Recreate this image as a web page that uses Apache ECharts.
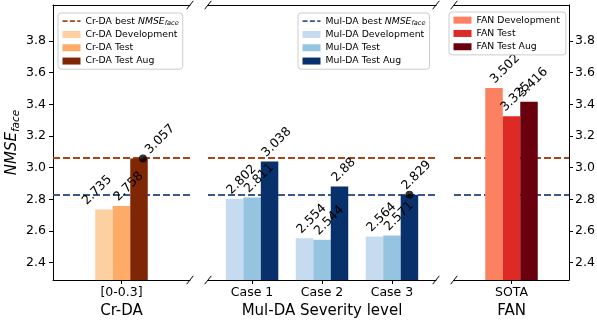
<!DOCTYPE html>
<html><head><meta charset="utf-8">
<script src="https://cdn.jsdelivr.net/npm/echarts@6/dist/echarts.min.js"></script>
<style>html,body{margin:0;padding:0;background:#fff}#c{width:597px;height:320px}</style>
</head><body><div id="c"></div>
<script>
// ---- data ----
const crCategories = ['[0-0.3]'];
const crDev = [2.735];
const crTest = [2.758];
const crAug = [3.057];
const mulCategories = ['Case 1', 'Case 2', 'Case 3'];
const mulDev = [2.802, 2.554, 2.564];
const mulTest = [2.811, 2.544, 2.571];
const mulAug = [3.038, 2.88, 2.829];
const fanCategories = ['SOTA'];
const fanDev = [3.502];
const fanTest = [3.325];
const fanAug = [3.416];
const crBest = 3.057;
const mulBest = 2.829;
const yTicks = [2.4, 2.6, 2.8, 3.0, 3.2, 3.4, 3.6, 3.8];
const panelTitles = ['Cr-DA', 'Mul-DA Severity level', 'FAN'];
const crNames = ['Cr-DA Development', 'Cr-DA Test', 'Cr-DA Test Aug'];
const mulNames = ['Mul-DA Development', 'Mul-DA Test', 'Mul-DA Test Aug'];
const fanNames = ['FAN Development', 'FAN Test', 'FAN Test Aug'];
const crBestName = 'Cr-DA best NMSEface';
const mulBestName = 'Mul-DA best NMSEface';

// ---- styling / layout ----
const FONT = 'DejaVu Sans';
const BAR_UNITS = 0.25;
const PX_PER_UNIT = 70;
const BAR_W = BAR_UNITS * PX_PER_UNIT;
const TOP = 5, BOTTOM_Y = 280;
const grids = [
  {left: 53, top: TOP, width: 137, height: BOTTOM_Y - TOP},
  {left: 208, top: TOP, width: 228, height: BOTTOM_Y - TOP},
  {left: 454, top: TOP, width: 115, height: BOTTOM_Y - TOP}
];
const xRanges = [[-0.98, 0.98], [-0.63, 2.63], [-0.82, 0.82]];
const Y_MIN = 2.29, Y_MAX = 4.027;
const crColors = ['#fdd0a2', '#fdab67', '#7f2704'];
const mulColors = ['#c6dbef', '#94c4df', '#08306b'];
const fanColors = ['#fc8161', '#dd2a25', '#6a000d'];
const crLineColor = '#a8431a';
const mulLineColor = '#3a5a8c';
const dash = [7, 3];

const panels = [
  {cats: crCategories, vals: [crDev, crTest, crAug], names: crNames, colors: crColors},
  {cats: mulCategories, vals: [mulDev, mulTest, mulAug], names: mulNames, colors: mulColors},
  {cats: fanCategories, vals: [fanDev, fanTest, fanAug], names: fanNames, colors: fanColors}
];
// small manual label nudges (px) to mirror the reference's overlapping label placement
const labelNudge = {'0-0-0': -14, '0-2-0': 14, '2-0-0': 4, '2-1-0': -3, '2-2-0': -3};

const axisLineStyle = {color: '#000', width: 1};
const xAxes = [], yAxes = [], series = [];

panels.forEach((p, i) => {
  const catIdx = p.cats.map((_, k) => k);
  xAxes.push({
    type: 'value', gridIndex: i, position: 'bottom', min: xRanges[i][0], max: xRanges[i][1],
    axisLine: {show: true, onZero: false, lineStyle: axisLineStyle},
    axisTick: {show: true, length: 4, customValues: catIdx, lineStyle: axisLineStyle},
    axisLabel: {show: true, customValues: catIdx, formatter: v => p.cats[Math.round(v)], margin: 6,
      fontSize: 12.5, color: '#000', fontFamily: FONT},
    splitLine: {show: false},
    name: panelTitles[i], nameLocation: 'middle', nameGap: 22,
    nameTextStyle: {fontSize: 15, color: '#000', fontFamily: FONT}
  });
});
panels.forEach((p, i) => {
  xAxes.push({
    type: 'value', gridIndex: i, position: 'top', min: xRanges[i][0], max: xRanges[i][1],
    axisLine: {show: true, onZero: false, lineStyle: axisLineStyle},
    axisTick: {show: false}, axisLabel: {show: false}, splitLine: {show: false}
  });
});

const yBase = {type: 'value', min: Y_MIN, max: Y_MAX, splitLine: {show: false}};
yAxes.push(Object.assign({}, yBase, {
  gridIndex: 0, position: 'left',
  axisLine: {show: true, onZero: false, lineStyle: axisLineStyle},
  axisTick: {show: true, length: 4, customValues: yTicks, lineStyle: axisLineStyle},
  axisLabel: {show: true, customValues: yTicks, formatter: v => v.toFixed(1), margin: 7,
    fontSize: 12.5, color: '#000', fontFamily: FONT},
  name: '{i|NMSE}{s|face}', nameLocation: 'middle', nameGap: 28,
  nameTextStyle: {rich: {
    i: {fontSize: 15, fontStyle: 'italic', fontFamily: FONT, color: '#000'},
    s: {fontSize: 10.5, fontStyle: 'italic', fontFamily: FONT, color: '#000', padding: [9, 0, 0, 0]}
  }}
}));
yAxes.push(Object.assign({}, yBase, {gridIndex: 1, show: false}));
yAxes.push(Object.assign({}, yBase, {
  gridIndex: 2, position: 'right',
  axisLine: {show: true, onZero: false, lineStyle: axisLineStyle},
  axisTick: {show: true, length: 4, customValues: yTicks, lineStyle: axisLineStyle},
  axisLabel: {show: true, customValues: yTicks, formatter: v => v.toFixed(1), margin: 6,
    fontSize: 12.5, color: '#000', fontFamily: FONT}
}));

function labelAt(shift) {
  return {show: true, position: [BAR_W / 2 - 1 + shift, -2], rotate: 45, align: 'left',
    verticalAlign: 'bottom', fontSize: 12.5, color: '#000', fontFamily: FONT,
    formatter: prm => String(prm.value[1])};
}

panels.forEach((p, i) => {
  p.vals.forEach((vals, s) => {
    const ser = {
      type: 'bar', name: p.names[s], xAxisIndex: i, yAxisIndex: i,
      barWidth: BAR_W, barGap: '0%', z: 2,
      itemStyle: {color: p.colors[s]},
      label: labelAt(0),
      data: vals.map((v, k) => {
        const n = labelNudge[i + '-' + s + '-' + k] || 0;
        return {value: [k, v], label: labelAt(n)};
      })
    };
    if (s === 0) {
      ser.markLine = {
        silent: true, symbol: 'none', z: 1, animation: false,
        label: {show: false},
        data: [
          {yAxis: crBest, lineStyle: {color: crLineColor, type: dash, width: 1.8}},
          {yAxis: mulBest, lineStyle: {color: mulLineColor, type: dash, width: 1.8}}
        ]
      };
    }
    series.push(ser);
  });
});

// legend carriers for the dashed "best" lines
series.push({type: 'line', name: crBestName, xAxisIndex: 0, yAxisIndex: 0, data: [], symbol: 'none',
  itemStyle: {color: crLineColor}, lineStyle: {color: crLineColor, type: dash}});
series.push({type: 'line', name: mulBestName, xAxisIndex: 1, yAxisIndex: 1, data: [], symbol: 'none',
  itemStyle: {color: mulLineColor}, lineStyle: {color: mulLineColor, type: dash}});

// best-result dots on top of the Test Aug bars
const augIdx = 2;
const offsetOf = s => (s - 1) * BAR_UNITS;
series.push({type: 'scatter', xAxisIndex: 0, yAxisIndex: 0, z: 5, clip: false,
  symbolSize: 8, symbolOffset: [4, 0], itemStyle: {color: '#000'},
  data: [[crAug.indexOf(crBest) + offsetOf(augIdx), crBest]]});
series.push({type: 'scatter', xAxisIndex: 1, yAxisIndex: 1, z: 5, clip: false,
  symbolSize: 8, itemStyle: {color: '#000'},
  data: [[mulAug.indexOf(mulBest) + offsetOf(augIdx), mulBest]]});

const dashIcon = 'path://M0,0h5v1.6h-5zM7.4,0h5v1.6h-5zM14.8,0h3.2v1.6h-3.2z';
const LFS = 9.3;
const legendText = {fontSize: LFS, color: '#000', fontFamily: FONT, lineHeight: 13.3,
  rich: {
    n: {fontSize: LFS, fontFamily: FONT, color: '#000', lineHeight: 13.3},
    i: {fontSize: LFS, fontStyle: 'italic', fontFamily: FONT, color: '#000', lineHeight: 13.3},
    s: {fontSize: 6.6, fontStyle: 'italic', fontFamily: FONT, color: '#000', padding: [5, 0, 0, 0]}
  }};
const legendFmt = name => name.endsWith('NMSEface') ? '{n|' + name.replace('NMSEface', '') + '}{i|NMSE}{s|face}' : name;
function mkLegend(left, top, items, pad) {
  return {
    left: left, top: top, orient: 'vertical', itemWidth: 18, itemHeight: 7, itemGap: 0,
    padding: pad, backgroundColor: 'rgba(255,255,255,0.8)', borderColor: '#cccccc',
    borderWidth: 1, borderRadius: 3, selectedMode: false,
    textStyle: legendText, formatter: legendFmt, data: items
  };
}
const rectItem = (name, color) => ({name: name, icon: 'rect', itemStyle: {color: color}});
const lineItem = (name, color) => ({name: name, icon: dashIcon, itemStyle: {color: color, borderWidth: 0}});

const legends = [
  mkLegend(58, 13, [lineItem(crBestName, crLineColor)].concat(crNames.map((n, k) => rectItem(n, crColors[k]))), [1.5, 4, 1.5, 4.5]),
  mkLegend(298, 13, [lineItem(mulBestName, mulLineColor)].concat(mulNames.map((n, k) => rectItem(n, mulColors[k]))), [1.5, 4, 1.5, 4.5]),
  mkLegend(449, 12, fanNames.map((n, k) => rectItem(n, fanColors[k])), [1.5, 6, 1.5, 4.5])
];

// axis-break marks
const breaks = [];
function brk(x, y) {
  breaks.push({type: 'line', silent: true, z: 10,
    shape: {x1: x - 3.3, y1: y + 4.2, x2: x + 3.3, y2: y - 4.2},
    style: {stroke: '#000', lineWidth: 1}});
}
[[0, 'r'], [1, 'l'], [1, 'r'], [2, 'l']].forEach(([gi, side]) => {
  const g = grids[gi];
  const x = side === 'l' ? g.left : g.left + g.width;
  brk(x, g.top); brk(x, g.top + g.height);
});

const chart = echarts.init(document.getElementById('c'), null, {renderer: 'canvas'});
chart.setOption({
  animation: false,
  backgroundColor: '#fff',
  textStyle: {fontFamily: FONT},
  grid: grids.map(g => Object.assign({outerBoundsMode: 'none', containLabel: false}, g)),
  xAxis: xAxes, yAxis: yAxes, series: series, legend: legends,
  graphic: breaks
});
</script></body></html>
